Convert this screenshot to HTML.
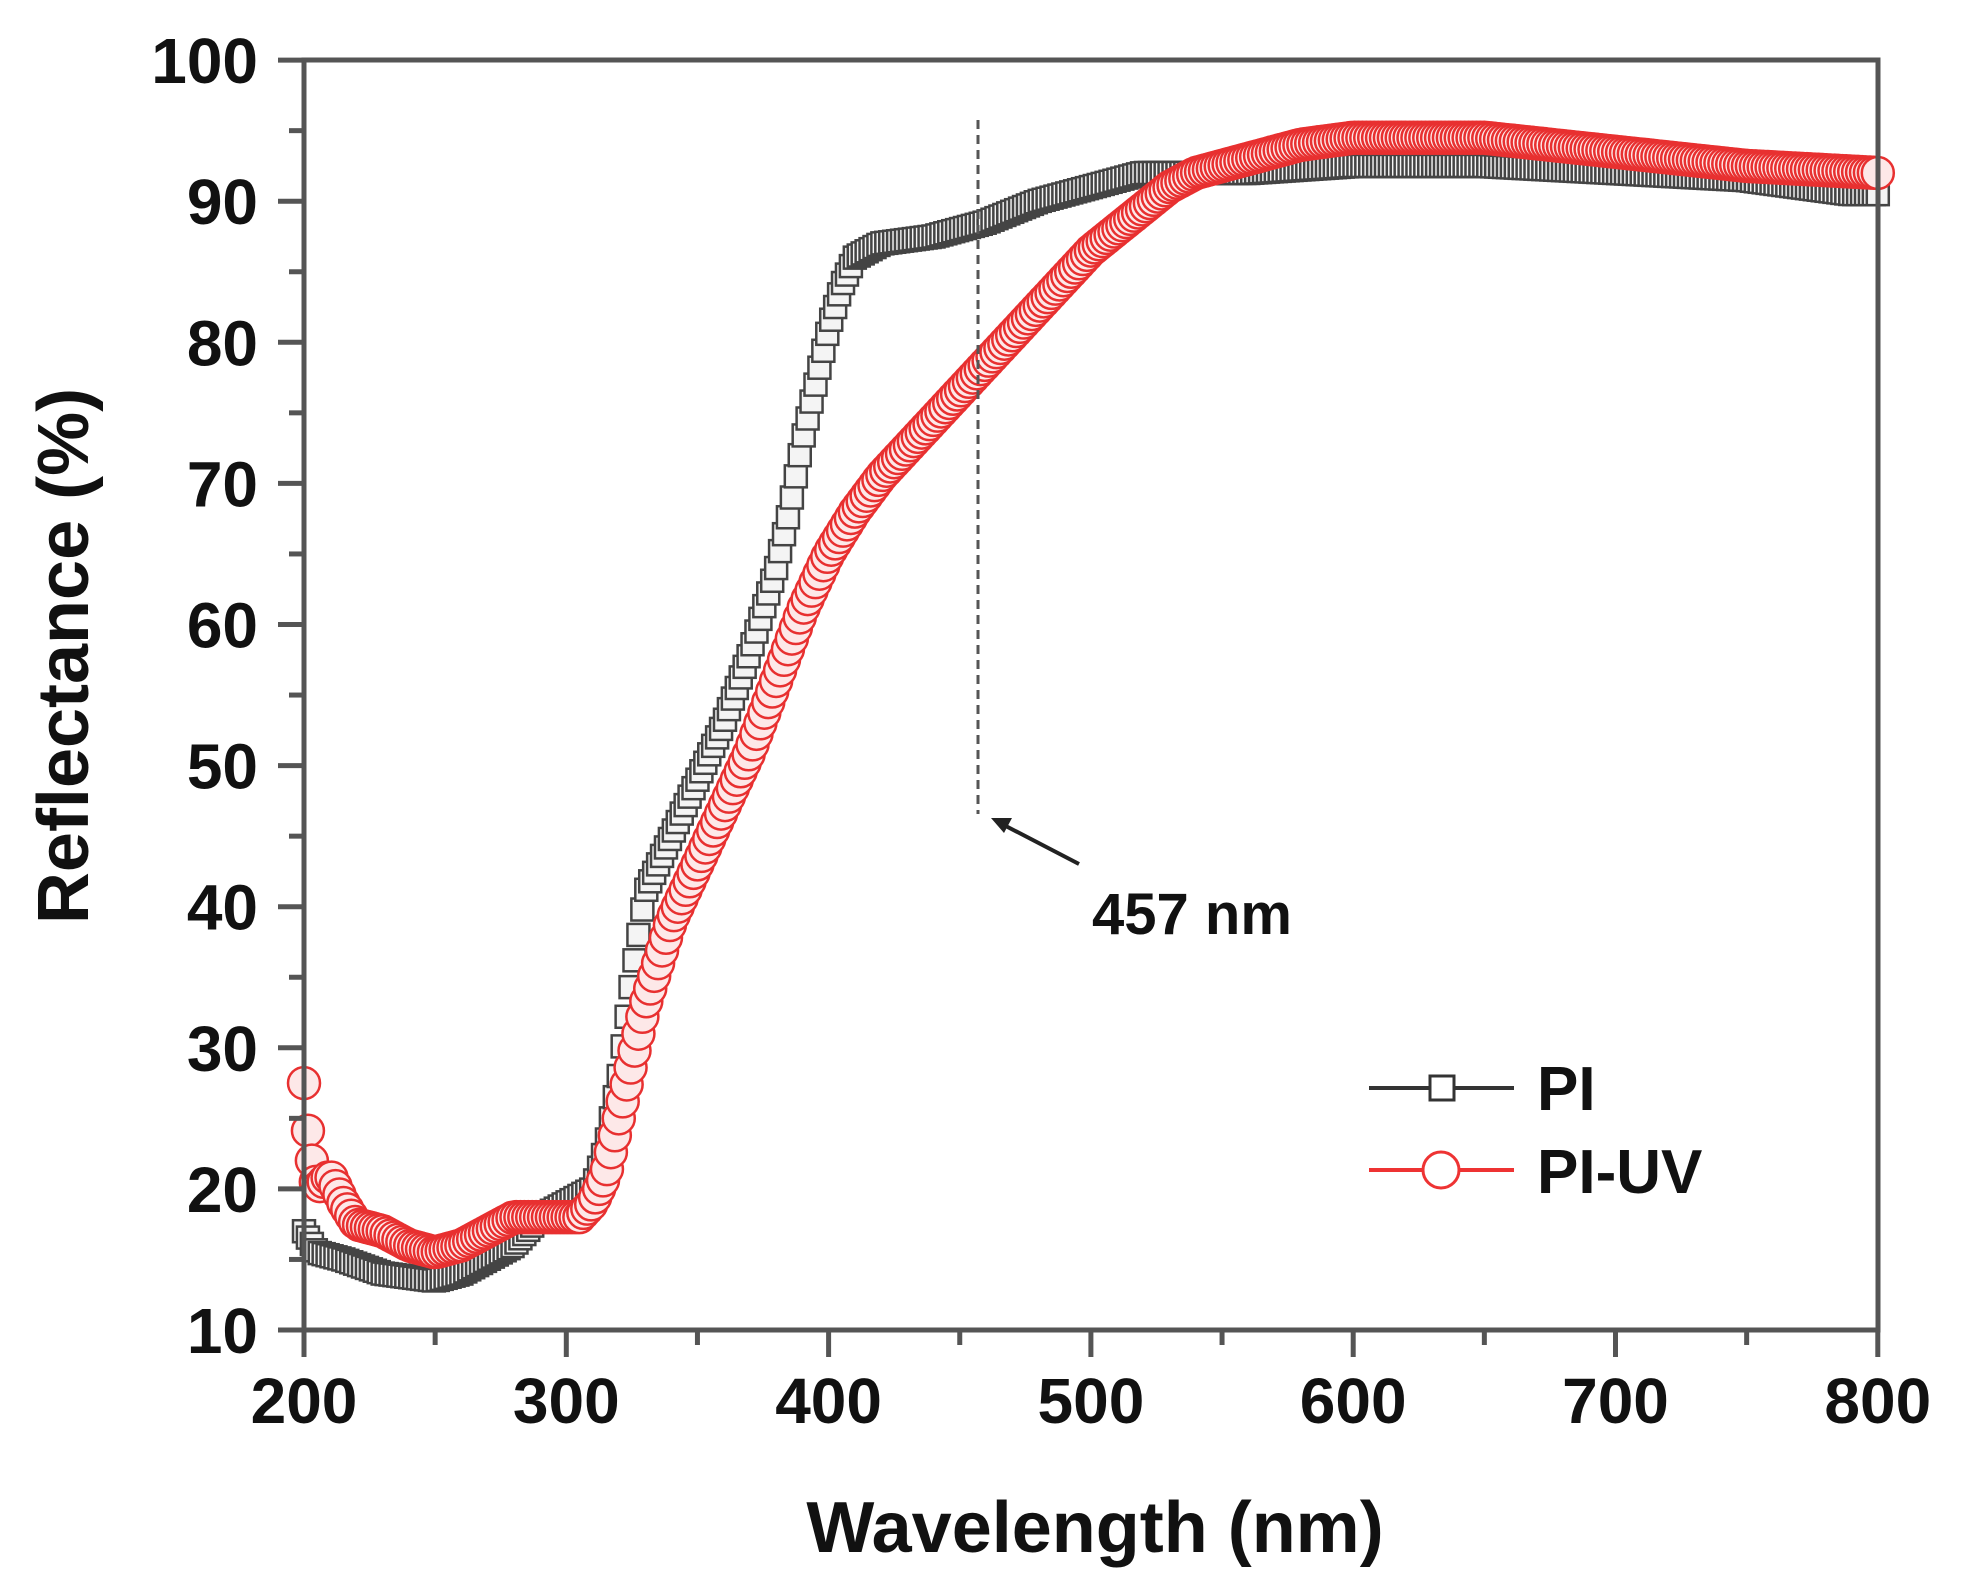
<!DOCTYPE html>
<html><head><meta charset="utf-8"><style>
html,body{margin:0;padding:0;background:#fff;}
svg{display:block;}
text{font-family:"Liberation Sans",Arial,sans-serif;font-weight:bold;fill:#111;}
</style></head><body>
<svg id="s" width="1968" height="1594" viewBox="0 0 1968 1594" xmlns="http://www.w3.org/2000/svg">
<g id="data"></g>
<g stroke="#555" stroke-width="5" fill="none">
<rect x="304" y="60" width="1574" height="1270"/>
</g>
<g id="ticks" stroke="#555" stroke-width="5"></g>
<g id="labels" font-size="64" text-anchor="end"></g>
<g id="xlabels" font-size="64" text-anchor="middle"></g>
<text x="1095" y="1552" font-size="72" text-anchor="middle">Wavelength (nm)</text>
<text transform="translate(88,656) rotate(-90)" font-size="72" text-anchor="middle">Reflectance (%)</text>
<line x1="978" y1="120" x2="978" y2="814" stroke="#555" stroke-width="3" stroke-dasharray="9,6"/>
<line x1="1079" y1="864" x2="1000" y2="823" stroke="#222" stroke-width="4"/>
<polygon points="991,818 1012,818 1004,833" fill="#222"/>
<text x="1092" y="934" font-size="58">457 nm</text>
<line x1="1369" y1="1088" x2="1514" y2="1088" stroke="#333" stroke-width="4"/>
<rect x="1430" y="1076" width="24" height="24" fill="#fff" stroke="#333" stroke-width="3"/>
<text x="1537" y="1110" font-size="62">PI</text>
<line x1="1369" y1="1170" x2="1514" y2="1170" stroke="#e33" stroke-width="4"/>
<circle cx="1441" cy="1170" r="18" fill="#fff" stroke="#e33" stroke-width="3"/>
<text x="1537" y="1193" font-size="62">PI-UV</text>
</svg>
<script>
var NS="http://www.w3.org/2000/svg";
function X(w){return 304+(w-200)*2.623;}
function Y(v){return 1330-(v-10)*14.11;}
function el(p,t,a){var e=document.createElementNS(NS,t);for(var k in a)e.setAttribute(k,a[k]);p.appendChild(e);return e;}
var tk=document.getElementById('ticks'),lb=document.getElementById('labels'),xl=document.getElementById('xlabels');
for(var v=10;v<=100;v+=5){var maj=v%10==0;el(tk,'line',{x1:304-(maj?26:15),x2:304,y1:Y(v),y2:Y(v)});
 if(maj){var t=el(lb,'text',{x:258,y:Y(v)+23});t.textContent=v;}}
for(var w=200;w<=800;w+=50){var maj=w%100==0;el(tk,'line',{x1:X(w),x2:X(w),y1:1330,y2:1330+(maj?27:15)});
 if(maj){var t=el(xl,'text',{x:X(w),y:1423});t.textContent=w;}}
function interp(P,w){for(var i=0;i<P.length-1;i++){if(w>=P[i][0]&&w<=P[i+1][0]){var f=(w-P[i][0])/(P[i+1][0]-P[i][0]);return P[i][1]+f*(P[i+1][1]-P[i][1]);}}return P[P.length-1][1];}
var PI=[[200,17],[205,15.5],[215,15],[230,14],[250,13.5],[260,14],[270,15],[280,16],[290,18],[300,19],[310,20],[315,23],[320,28],[325,35],[330,41],[340,45],[350,49],[360,53],[370,58],[380,64],[385,68],[390,73],[395,77],[400,81],[405,84],[410,86],[420,87],[440,87.5],[460,88.5],[480,90],[500,91],[520,92],[540,92],[560,92],[600,92.5],[650,92.5],[700,92],[750,91.5],[790,90.5],[800,90.5]];
var UV=[[200,27.5],[202,23],[205,20],[210,21],[215,19],[220,17.5],[230,17],[240,16],[250,15.5],[260,16],[270,17],[280,18],[290,18],[300,18],[305,18],[310,19],[315,21],[320,25],[325,29],[330,33],[335,36],[340,39],[350,43],[360,47],[370,51],[380,56],[390,61],[400,65],[410,68],[420,70.5],[430,72.5],[440,74.5],[450,76.5],[460,78.5],[470,80.5],[480,82.5],[490,84.5],[500,86.5],[510,88],[520,89.5],[530,91],[540,92],[560,93],[580,94],[600,94.5],[650,94.5],[700,93.5],[750,92.5],[800,92]];
var d=document.getElementById('data');
var g1=el(d,'g',{fill:'#f4f4f4',stroke:'#444','stroke-width':2.5});
for(var w=200;w<=800;w+=1.5){var v=interp(PI,w);el(g1,'rect',{x:X(w)-11,y:Y(v)-11,width:22,height:22});}
var g2=el(d,'g',{fill:'#fde8e8',stroke:'#e83030','stroke-width':2.5});
for(var w=200;w<=800;w+=1.5){var v=interp(UV,w);el(g2,'circle',{cx:X(w),cy:Y(v),r:16});}
</script>
</body></html>
